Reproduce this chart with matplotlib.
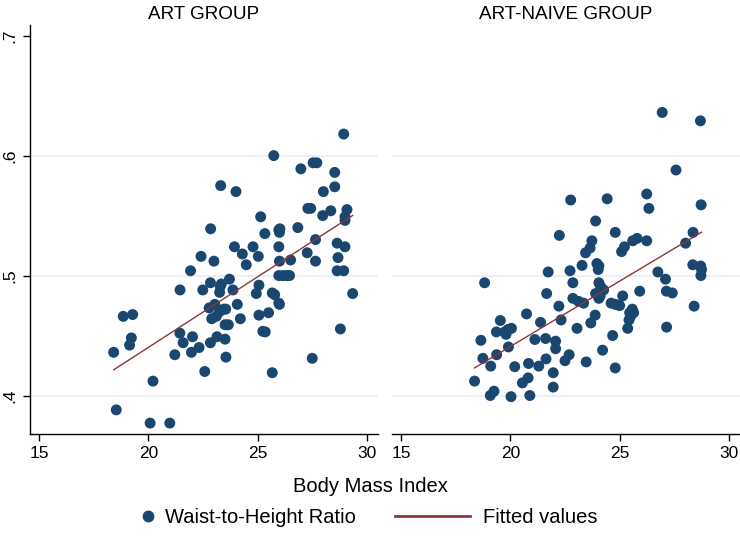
import numpy as np
import matplotlib
matplotlib.use('Agg')
import matplotlib.pyplot as plt
from matplotlib.lines import Line2D

plt.rcParams['font.family'] = ['Liberation Sans', 'DejaVu Sans']

# Panel titles and axis text
panel_titles = ['ART GROUP', 'ART-NAIVE GROUP']
x_label = 'Body Mass Index'
legend_labels = ['Waist-to-Height Ratio', 'Fitted values']
x_ticks = [15, 20, 25, 30]
y_ticks = [0.4, 0.5, 0.6, 0.7]
y_tick_labels = ['.4', '.5', '.6', '.7']

# ART group: BMI and waist-to-height ratio
art_bmi = [28.94, 25.74, 26.98, 27.54, 27.71, 28.53, 23.31, 24.01, 28.01, 28.53,
           27.30, 27.43, 28.35, 27.98, 29.09, 29.00, 29.00, 25.14, 22.85, 26.02,
           26.84, 25.33, 28.64, 29.00, 28.68, 27.65, 27.27, 27.65, 26.51, 26.00,
           25.97, 25.97, 24.79, 25.03, 24.30, 23.94, 24.48, 22.41, 23.00, 18.41,
           18.53, 18.85, 19.28, 19.22, 19.14, 20.21, 20.08, 20.98, 21.21, 21.44,
           21.59, 21.45, 21.93, 22.02, 21.97, 22.32, 22.58, 22.49, 22.84, 22.84,
           23.14, 23.51, 23.55, 22.78, 23.04, 22.90, 23.11, 23.26, 23.45, 23.54,
           23.29, 23.26, 23.34, 23.71, 23.87, 23.51, 23.66, 24.07, 24.21, 24.94,
           25.06, 25.06, 25.50, 25.24, 25.35, 25.67, 25.78, 25.97, 26.00, 25.67,
           25.97, 26.16, 26.34, 26.46, 27.50, 28.64, 28.94, 28.79, 29.35, 26.00]
art_whtr = [0.618, 0.600, 0.589, 0.594, 0.594, 0.586, 0.575, 0.570, 0.570, 0.574,
            0.556, 0.556, 0.554, 0.550, 0.555, 0.549, 0.546, 0.549, 0.539, 0.539,
            0.540, 0.535, 0.527, 0.524, 0.515, 0.530, 0.519, 0.512, 0.513, 0.512,
            0.524, 0.538, 0.524, 0.516, 0.518, 0.524, 0.509, 0.516, 0.512, 0.436,
            0.388, 0.466, 0.4675, 0.448, 0.442, 0.412, 0.377, 0.377, 0.434, 0.452,
            0.444, 0.488, 0.504, 0.449, 0.436, 0.440, 0.420, 0.488, 0.494, 0.444,
            0.449, 0.447, 0.432, 0.473, 0.476, 0.464, 0.466, 0.470, 0.472, 0.472,
            0.491, 0.486, 0.493, 0.497, 0.488, 0.459, 0.459, 0.476, 0.464, 0.485,
            0.492, 0.467, 0.469, 0.4535, 0.453, 0.4855, 0.484, 0.477, 0.476, 0.419,
            0.500, 0.500, 0.500, 0.500, 0.431, 0.504, 0.504, 0.4555, 0.485, 0.536]

# ART-naive group
naive_bmi = [26.95, 28.70, 27.58, 22.76, 24.43, 26.24, 26.34, 28.73, 23.90, 22.24,
             24.80, 23.73, 25.60, 25.80, 26.24, 28.36, 28.02, 25.22, 23.65, 23.44,
             23.28, 23.96, 24.05, 25.09, 28.35, 28.71, 21.73, 22.73, 24.02, 18.82,
             22.86, 24.05, 24.14, 24.27, 21.66, 22.86, 23.12, 23.35, 23.90, 24.11,
             24.05, 25.14, 25.92, 24.61, 24.80, 25.00, 25.58, 25.46, 25.43, 25.64,
             25.50, 26.75, 27.10, 27.14, 27.41, 28.41, 28.75, 28.72, 27.15, 25.37,
             20.74, 19.54, 19.36, 19.74, 19.89, 20.05, 19.80, 18.65, 21.38, 22.32,
             22.22, 23.88, 23.68, 23.05, 21.12, 21.61, 22.07, 22.07, 19.91, 19.37,
             18.74, 19.10, 20.20, 20.83, 21.30, 21.63, 22.50, 22.69, 23.47, 24.22,
             24.68, 24.80, 18.36, 20.55, 20.81, 19.08, 19.25, 20.03, 20.89, 21.96,
             21.96]
naive_whtr = [0.636, 0.629, 0.588, 0.563, 0.564, 0.568, 0.556, 0.559, 0.5455, 0.5335,
              0.536, 0.529, 0.529, 0.531, 0.529, 0.536, 0.527, 0.524, 0.523, 0.519,
              0.5085, 0.510, 0.508, 0.520, 0.509, 0.508, 0.503, 0.504, 0.505, 0.494,
              0.494, 0.494, 0.4905, 0.488, 0.485, 0.481, 0.4785, 0.477, 0.485, 0.483,
              0.481, 0.483, 0.487, 0.477, 0.476, 0.475, 0.472, 0.469, 0.463, 0.469,
              0.466, 0.503, 0.497, 0.487, 0.4855, 0.4745, 0.505, 0.500, 0.457, 0.456,
              0.468, 0.4625, 0.453, 0.453, 0.455, 0.456, 0.451, 0.446, 0.461, 0.463,
              0.4745, 0.467, 0.4605, 0.456, 0.4467, 0.4475, 0.4453, 0.439, 0.4405, 0.434,
              0.431, 0.4245, 0.424, 0.4267, 0.4245, 0.4305, 0.429, 0.434, 0.428, 0.4378,
              0.450, 0.423, 0.412, 0.4105, 0.4147, 0.400, 0.4036, 0.399, 0.400, 0.419,
              0.407]

marker_color = '#1a476f'
line_color = '#90353b'
grid_color = '#e4ecf0'

fig = plt.figure(figsize=(7.4, 5.41), dpi=100)
ax_left = fig.add_axes([0.0405, 0.198, 0.470, 0.756])
ax_right = fig.add_axes([0.5297, 0.198, 0.470, 0.756])

groups = [(ax_left, art_bmi, art_whtr), (ax_right, naive_bmi, naive_whtr)]

for i, (ax, bmi, whtr) in enumerate(groups):
    bmi = np.array(bmi)
    whtr = np.array(whtr)

    ax.scatter(bmi, whtr, s=62, color=marker_color, edgecolors='none', zorder=3)

    # linear fit over the range of BMI
    slope, intercept = np.polyfit(bmi, whtr, 1)
    xs = np.array([bmi.min(), bmi.max()])
    ax.plot(xs, slope * xs + intercept, color=line_color, lw=1.0, zorder=4)

    ax.set_xlim(14.58, 30.5)
    ax.set_ylim(0.368, 0.709)
    ax.set_xticks(x_ticks)
    ax.set_xticklabels([str(t) for t in x_ticks], fontsize=12.5)
    ax.set_yticks(y_ticks)
    ax.set_yticklabels(y_tick_labels, rotation=90, va='center', fontsize=12.5)

    ax.grid(axis='y', color=grid_color, lw=1.1, zorder=0)
    ax.get_ygridlines()[-1].set_visible(False)

    ax.tick_params(axis='both', direction='out', length=5, width=1, colors='black', pad=4)
    for side in ['top', 'right']:
        ax.spines[side].set_visible(False)
    ax.spines['bottom'].set_linewidth(1)
    ax.spines['left'].set_linewidth(1)

    ax.set_title(panel_titles[i], fontsize=13.6, pad=4)

# right panel shares y, no axis drawn
ax_right.spines['left'].set_visible(False)
ax_right.tick_params(axis='y', left=False, labelleft=False)

fig.text(0.5, 0.1, x_label, ha='center', va='center', fontsize=14.5)

h_dot = Line2D([], [], marker='o', ls='none', color=marker_color, markersize=7.5)
h_line = Line2D([], [], color=line_color, lw=2.0)
fig.legend([h_dot], [legend_labels[0]], loc='center left', bbox_to_anchor=(0.1865, 0.044),
           frameon=False, fontsize=14.5, handlelength=1.0, handletextpad=0.35,
           borderpad=0, borderaxespad=0)
fig.legend([h_line], [legend_labels[1]], loc='center left', bbox_to_anchor=(0.534, 0.044),
           frameon=False, fontsize=14.5, handlelength=3.73, handletextpad=0.65,
           borderpad=0, borderaxespad=0)

plt.savefig('out.png', dpi=100)
plt.close()
